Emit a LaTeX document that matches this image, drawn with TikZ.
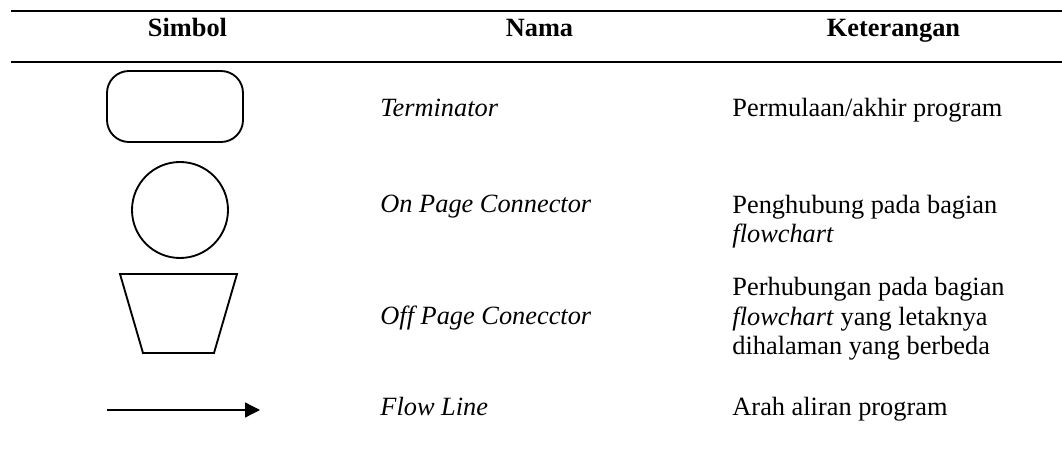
\documentclass[tikz,border=0pt]{standalone}
\usepackage{fontspec}
\setmainfont{Liberation Serif}
\usepackage{tikz}
\usetikzlibrary{arrows.meta}
\newcommand{\ukuran}{\fontsize{12}{13.66}\selectfont}
\tikzstyle{garis} = [line width=0.9pt]
\tikzstyle{simbol} = [draw=black, line width=0.85pt]
\tikzstyle{judul} = [anchor=base, inner sep=0pt, font=\ukuran\bfseries]
\tikzstyle{nama} = [anchor=base west, inner sep=0pt, font=\ukuran\itshape]
\tikzstyle{ket} = [anchor=base west, inner sep=0pt, align=left, font=\ukuran]

\begin{document}
\begin{tikzpicture}[x=0.016cm, y=-0.016cm]
\useasboundingbox (0,0) rectangle (1062,467);
\draw[garis] (11,11) -- (1062,11);
\draw[garis] (11,62) -- (1062,62);
\node[judul] (h-simbol) at (187.5,36.5) {Simbol};
\node[judul] (h-nama) at (539.5,36.5) {Nama};
\node[judul] (h-ket) at (893.5,36.5) {Keterangan};

\draw[simbol, rounded corners=10] (107,71) rectangle (243,142);
\node[nama] (n-term) at (380,117) {Terminator};
\node[ket] (k-term) at (732,117) {Permulaan/akhir program};

\draw[simbol] (180,210) circle [radius=48];
\node[nama] (n-on) at (380,213) {On Page Connector};
\node[ket] (k-on) at (732,243) {Penghubung pada bagian\\ \textit{flowchart}};

\draw[simbol] (120,274) -- (237,274) -- (214,353) -- (143,353) -- cycle;
\node[nama] (n-off) at (380,325) {Off Page Conecctor};
\node[ket] (k-off) at (732,355) {Perhubungan pada bagian\\ \textit{flowchart} yang letaknya\\ dihalaman yang berbeda};

\coordinate (fl-awal) at (107,410);
\coordinate (fl-ujung) at (260,410);
\draw[line width=0.6pt, -{Triangle[length=6.8pt, width=6.8pt]}] (fl-awal) -- (fl-ujung);
\node[nama] (n-flow) at (380,416) {Flow Line};
\node[ket] (k-flow) at (732,416) {Arah aliran program};
\end{tikzpicture}
\end{document}
